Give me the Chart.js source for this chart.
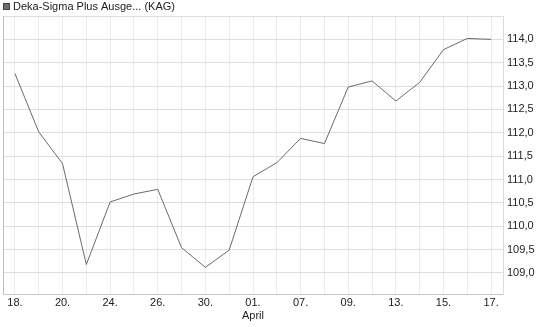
<!DOCTYPE html>
<html>
<head>
<meta charset="utf-8">
<script src="https://cdn.jsdelivr.net/npm/chart.js@4"></script>
<style>
  html, body { margin: 0; padding: 0; background: #fff; }
  #wrap { width: 545px; height: 327px; }
</style>
</head>
<body>
<div id="wrap"><canvas id="chart"></canvas></div>
<script>
// Data
const seriesName = 'Deka-Sigma Plus Ausge... (KAG)';
const dates = ['18.', '19.', '20.', '22.', '24.', '25.', '26.', '27.', '30.', '31.', '01.',
               '02.', '07.', '08.', '09.', '10.', '13.', '14.', '15.', '16.', '17.'];
const prices = [113.27, 112.02, 111.34, 109.18, 110.52, 110.69, 110.79, 109.54, 109.12, 109.49, 111.06,
                111.36, 111.88, 111.77, 112.98, 113.11, 112.68, 113.08, 113.78, 114.02, 114.0];
const yTicks = [109, 109.5, 110, 110.5, 111, 111.5, 112, 112.5, 113, 113.5, 114, 114.5];
const monthLabel = 'April';

const font = { family: '"Liberation Sans", Arial, sans-serif', size: 11 };

// legend + left frame line
const frame = {
  id: 'frame',
  afterDraw(chart) {
    const ctx = chart.ctx;
    const a = chart.chartArea;
    ctx.save();
    ctx.strokeStyle = '#bdbdbd';
    ctx.lineWidth = 1;
    ctx.beginPath();
    ctx.moveTo(a.left + 0.5, a.top);
    ctx.lineTo(a.left + 0.5, a.bottom);
    ctx.stroke();

    ctx.fillStyle = '#6e6e6e';
    ctx.fillRect(3, 3, 7, 7);
    ctx.strokeStyle = '#444';
    ctx.strokeRect(3.5, 3.5, 6, 6);
    ctx.fillStyle = '#222';
    ctx.font = '11px "Liberation Sans", Arial, sans-serif';
    ctx.textBaseline = 'middle';
    ctx.fillText(seriesName, 13, 7);
    ctx.restore();
  }
};

new Chart(document.getElementById('chart'), {
  type: 'line',
  data: {
    labels: dates,
    datasets: [{
      label: seriesName,
      data: prices,
      borderColor: '#6a6a6a',
      borderWidth: 1,
      pointRadius: 0,
      tension: 0,
      fill: false
    }]
  },
  options: {
    responsive: true,
    maintainAspectRatio: false,
    animation: false,
    layout: { padding: { left: 3, top: 16, right: 0, bottom: 0 } },
    plugins: {
      legend: { display: false },
      tooltip: { enabled: false }
    },
    scales: {
      x: {
        offset: true,
        grid: { offset: false, color: '#ececec', drawTicks: false },
        border: { color: '#c8c8c8' },
        ticks: {
          autoSkip: false,
          maxRotation: 0,
          padding: 2,
          color: '#222',
          font,
          callback: (v, i) => {
            if (i % 2) return '';
            return i === 10 ? [dates[i], monthLabel] : dates[i];
          }
        },
        afterFit: s => { s.height = 33; }
      },
      y: {
        position: 'right',
        min: 108.55,
        max: 114.5,
        afterBuildTicks: s => { s.ticks = yTicks.map(v => ({ value: v })); },
        grid: { color: '#dedede', drawTicks: false },
        border: { color: '#dcdcdc' },
        ticks: {
          padding: 4,
          color: '#222',
          font,
          callback: v => (v > 114 ? '' : v.toFixed(1).replace('.', ','))
        },
        afterFit: s => { s.width = 42; }
      }
    }
  },
  plugins: [frame]
});
</script>
</body>
</html>
